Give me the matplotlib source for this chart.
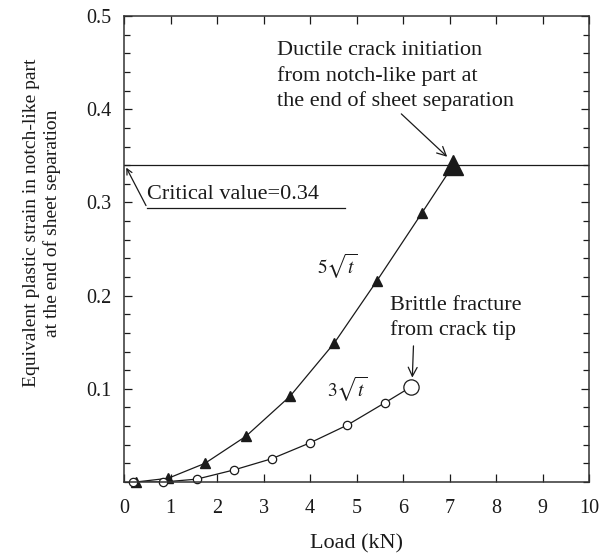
import matplotlib.pyplot as plt
from matplotlib.ticker import MultipleLocator

plt.rcParams['font.family'] = ['Liberation Serif', 'DejaVu Serif']
plt.rcParams['mathtext.fontset'] = 'stix'

# 5*sqrt(t) clearance: load (kN) vs equivalent plastic strain
load_5 = [0.26, 0.95, 1.74, 2.62, 3.57, 4.52, 5.44, 6.41, 7.08]
strain_5 = [0.0, 0.004, 0.020, 0.049, 0.092, 0.149, 0.216, 0.289, 0.34]

# 3*sqrt(t) clearance
load_3 = [0.20, 0.84, 1.56, 2.37, 3.18, 4.00, 4.80, 5.61, 6.17]
strain_3 = [0.0, 0.0, 0.003, 0.013, 0.025, 0.042, 0.061, 0.085, 0.102]

critical = 0.34
xticks = list(range(0, 11))
yticks = [0.1, 0.2, 0.3, 0.4, 0.5]

fig = plt.figure(figsize=(6.11, 5.54), dpi=100)
ax = fig.add_axes([0.203, 0.130, 0.761, 0.841])

ink = '#1a1a1a'

ax.axhline(critical, color=ink, lw=0.9)

ax.plot(load_5, strain_5, color=ink, lw=0.9)
ax.plot(load_5[:-1], strain_5[:-1], '^', color=ink, ms=6.5, ls='none', clip_on=False)
ax.plot(load_5[-1], strain_5[-1], '^', color=ink, ms=15, ls='none', clip_on=False)

ax.plot(load_3, strain_3, color=ink, lw=0.9)
ax.plot(load_3[:-1], strain_3[:-1], 'o', mfc='white', mec=ink, mew=0.9, ms=6, ls='none',
        clip_on=False)
ax.plot(load_3[-1], strain_3[-1], 'o', mfc='white', mec=ink, mew=0.9, ms=11, ls='none')

ax.set_xlim(0, 10)
ax.set_ylim(0, 0.5)
ax.set_xticks(xticks)
ax.set_yticks(yticks)
ax.set_xticklabels([str(v) for v in xticks])
ax.set_yticklabels([f'{v:.1f}' for v in yticks])
ax.yaxis.set_minor_locator(MultipleLocator(0.02))

ax.tick_params(which='both', direction='in', top=True, right=True, colors=ink,
               labelsize=14.5, width=0.9)
ax.tick_params(which='major', length=6)
ax.tick_params(which='minor', length=4)
ax.tick_params(axis='x', which='major', pad=12)
ax.tick_params(axis='y', which='major', pad=9)
for s in ax.spines.values():
    s.set_linewidth(1.1)
    s.set_color('#333333')

ax.set_xlabel('Load (kN)', fontsize=16, color=ink)
ax.set_ylabel('Equivalent plastic strain in notch-like part\nat the end of sheet separation',
              fontsize=14, color=ink, linespacing=1.25)
ax.xaxis.set_label_coords(0.5, -0.112)
ax.yaxis.set_label_coords(-0.135, 0.556)

# critical value callout with underline leader
ax.annotate('', xy=(0.02, critical), xytext=(0.5, 0.294),
            arrowprops=dict(arrowstyle='->', color=ink, lw=0.9))
ax.plot([0.5, 4.75], [0.294, 0.294], color=ink, lw=0.9)
ax.text(0.5, 0.298, 'Critical value=0.34', fontsize=16, color=ink, ha='left', va='bottom')

ax.annotate('Ductile crack initiation\nfrom notch-like part at\nthe end of sheet separation',
            xy=(6.95, 0.349), xytext=(3.3, 0.398),
            fontsize=16, color=ink, ha='left', va='bottom', linespacing=1.38,
            arrowprops=dict(arrowstyle='->', color=ink, lw=0.9,
                            shrinkA=0, shrinkB=0, relpos=(0.51, 0.0)))

ax.annotate('Brittle fracture\nfrom crack tip', xy=(6.2, 0.112), xytext=(5.72, 0.152),
            fontsize=16, color=ink, ha='left', va='bottom', linespacing=1.35,
            arrowprops=dict(arrowstyle='->', color=ink, lw=0.9,
                            shrinkA=2, shrinkB=0, relpos=(0.18, 0.0)))

ax.text(4.58, 0.231, r'$5\sqrt{t}$', fontsize=14, color=ink, ha='center', va='center')
ax.text(4.8, 0.099, r'$3\sqrt{t}$', fontsize=14, color=ink, ha='center', va='center')

fig.savefig('out.png', dpi=100)
